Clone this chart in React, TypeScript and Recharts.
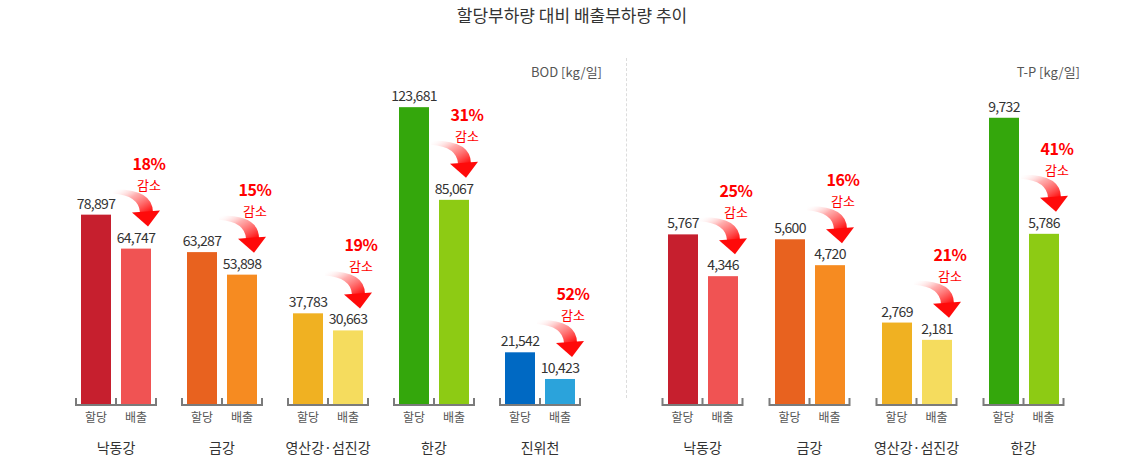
import React from "react";
import { Bar, BarChart, XAxis, YAxis } from "recharts";

const FONT = "'Noto Sans CJK KR', 'Noto Sans', sans-serif";

// BOD [kg/일]
const bodRivers = ["낙동강", "금강", "영산강·섬진강", "한강", "진위천"];
const bodAlloc = [78897, 63287, 37783, 123681, 21542];
const bodEmit = [64747, 53898, 30663, 85067, 10423];

// T-P [kg/일]
const tpRivers = ["낙동강", "금강", "영산강·섬진강", "한강"];
const tpAlloc = [5767, 5600, 2769, 9732];
const tpEmit = [4346, 4720, 2181, 5786];

const subLabels = ["할당", "배출"];

// [할당, 배출] colour per river
const riverColors: Record<string, [string, string]> = {
  낙동강: ["#c61f2e", "#f05353"],
  금강: ["#e8621f", "#f68b21"],
  "영산강·섬진강": ["#f0b122", "#f5dc5e"],
  한강: ["#34a70c", "#8dcb14"],
  진위천: ["#0069c3", "#2ba3db"],
};

type Row = { name: string; alloc: number; emit: number };

const build = (names: string[], alloc: number[], emit: number[]): Row[] =>
  names.map((name, i) => ({ name, alloc: alloc[i], emit: emit[i] }));

const fmt = (v: number) => v.toLocaleString("en-US");

function ValueText({ x, y, value }: { x: number; y: number; value: number }) {
  return (
    <text
      x={x}
      y={y}
      textAnchor="middle"
      fontSize={14}
      fill="#333"
      letterSpacing={-0.7}
      fontFamily={FONT}
    >
      {fmt(value)}
    </text>
  );
}

function AllocShape(props: any) {
  const { x, y, width, height, payload } = props;
  return (
    <g>
      <rect x={x} y={y} width={width} height={height} fill={riverColors[payload.name][0]} />
      <ValueText x={x + width / 2} y={y - 6} value={payload.alloc} />
    </g>
  );
}

function makeEmitShape(chartId: string) {
  return function EmitShape(props: any) {
    const { x, y, width, height, payload, index } = props;
    const T = y;
    const gid = `arrow-${chartId}-${index}`;
    const pct = Math.round((1 - payload.emit / payload.alloc) * 100);
    return (
      <g>
        <defs>
          <linearGradient id={gid} x1="0" y1="0" x2="1" y2="1">
            <stop offset="0%" stopColor="#ffffff" stopOpacity={0} />
            <stop offset="40%" stopColor="#ff8a8a" stopOpacity={0.7} />
            <stop offset="100%" stopColor="#ff0000" stopOpacity={1} />
          </linearGradient>
        </defs>
        <rect x={x} y={y} width={width} height={height} fill={riverColors[payload.name][1]} />
        <ValueText x={x + width / 2} y={y - 6} value={payload.emit} />
        {/* curved reduction arrow */}
        <path
          d={`M${x - 8},${T - 59} Q${x + 32},${T - 60} ${x + 32},${T - 36} L${x + 19},${T - 36} Q${x + 18},${T - 53} ${x - 8},${T - 55} Z`}
          fill={`url(#${gid})`}
        />
        <path d={`M${x + 11},${T - 36} L${x + 39},${T - 38} L${x + 27},${T - 22} Z`} fill="#ff0a0a" />
        <text
          x={x + 28}
          y={T - 79}
          textAnchor="middle"
          fontSize={16}
          fontWeight="bold"
          fill="#ff0000"
          letterSpacing={-0.5}
          fontFamily={FONT}
        >
          {pct}%
        </text>
        <text x={x + 28} y={T - 59} textAnchor="middle" fontSize={13} fill="#ff0000" fontFamily={FONT}>
          감소
        </text>
      </g>
    );
  };
}

function GroupTick(props: any) {
  const { x, y, payload } = props;
  return (
    <g>
      <path
        d={`M${x - 40},${y - 6} V${y + 1} H${x + 40} V${y - 6} M${x},${y - 6} V${y + 1}`}
        stroke="#7b7b7b"
        strokeWidth={2}
        fill="none"
      />
      {subLabels.map((s, i) => (
        <text
          key={s}
          x={x + (i === 0 ? -20 : 20)}
          y={y + 18}
          textAnchor="middle"
          fontSize={12}
          fill="#555"
          fontFamily={FONT}
        >
          {s}
        </text>
      ))}
      <text x={x} y={y + 49} textAnchor="middle" fontSize={14} fill="#333" fontFamily={FONT}>
        {payload.value}
      </text>
    </g>
  );
}

function Panel({
  id,
  data,
  max,
  left,
  width,
}: {
  id: string;
  data: Row[];
  max: number;
  left: number;
  width: number;
}) {
  return (
    <div style={{ position: "absolute", left, top: 0 }}>
      <BarChart
        width={width}
        height={458}
        data={data}
        margin={{ top: 104, right: 0, bottom: 0, left: 0 }}
        barSize={30}
        barGap={10}
        style={{ overflow: "visible" }}
      >
        <XAxis
          dataKey="name"
          height={54}
          axisLine={false}
          tickLine={false}
          tickSize={0}
          tickMargin={0}
          interval={0}
          tick={<GroupTick />}
        />
        <YAxis hide domain={[0, max]} />
        <Bar dataKey="alloc" shape={<AllocShape />} isAnimationActive={false} />
        <Bar dataKey="emit" shape={makeEmitShape(id)} isAnimationActive={false} />
      </BarChart>
    </div>
  );
}

export default function App() {
  return (
    <div
      style={{
        position: "absolute",
        left: 0,
        top: 0,
        width: 1144,
        height: 458,
        background: "#fff",
        fontFamily: FONT,
        overflow: "hidden",
      }}
    >
      <div
        style={{
          position: "absolute",
          top: 3,
          left: 0,
          width: 1144,
          textAlign: "center",
          fontSize: 17,
          lineHeight: "24px",
          color: "#333",
        }}
      >
        할당부하량 대비 배출부하량 추이
      </div>
      <div
        style={{
          position: "absolute",
          top: 62,
          left: 480,
          width: 122,
          textAlign: "right",
          fontSize: 13,
          color: "#555",
        }}
      >
        BOD [kg/일]
      </div>
      <div
        style={{
          position: "absolute",
          top: 62,
          left: 958,
          width: 122,
          textAlign: "right",
          fontSize: 13,
          color: "#555",
        }}
      >
        T-P [kg/일]
      </div>
      <div
        style={{
          position: "absolute",
          left: 626,
          top: 58,
          height: 340,
          borderLeft: "1.5px dashed #dcdcdc",
        }}
      />
      <Panel id="bod" data={build(bodRivers, bodAlloc, bodEmit)} max={125000} left={63} width={530} />
      <Panel id="tp" data={build(tpRivers, tpAlloc, tpEmit)} max={10200} left={649} width={428} />
    </div>
  );
}
